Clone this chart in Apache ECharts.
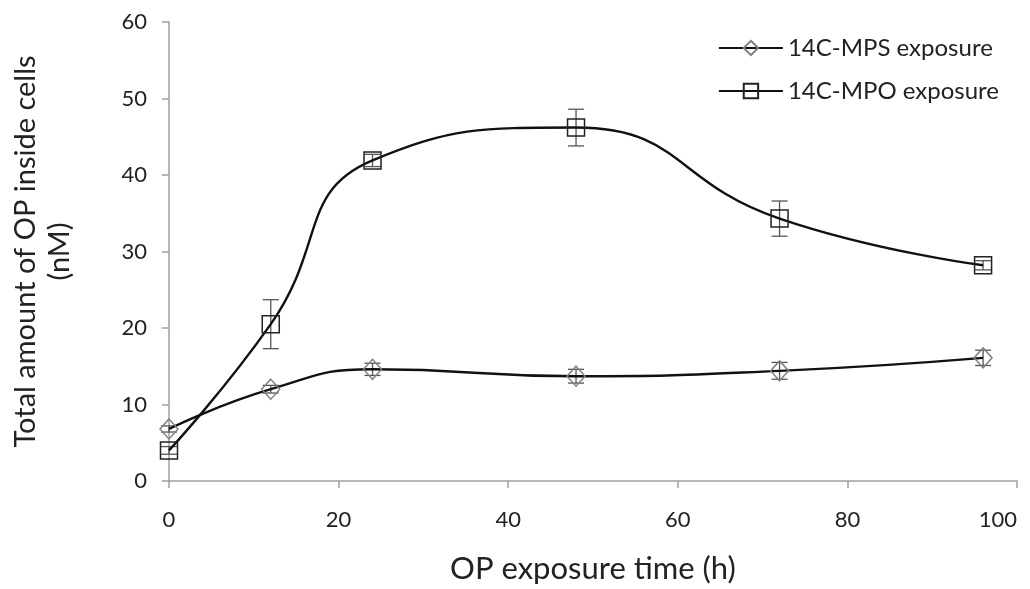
<!DOCTYPE html>
<html>
<head>
<meta charset="utf-8">
<script src="https://cdn.jsdelivr.net/npm/echarts@6/dist/echarts.min.js"></script>
<style>
  html, body { margin: 0; padding: 0; background: #fff; }
  #chart { width: 1030px; height: 589px; }
</style>
</head>
<body>
<div id="chart"></div>
<script>
const hours = [0, 12, 24, 48, 72, 96];
const mpsValues = [6.8, 12.0, 14.6, 13.7, 14.4, 16.1];
const mpsErrors = [0.4, 0.5, 0.8, 0.9, 1.1, 1.0];
const mpoValues = [4.0, 20.5, 41.9, 46.2, 34.3, 28.2];
const mpoErrors = [0.5, 3.2, 0.8, 2.4, 2.3, 0.6];
const xTicks = [0, 20, 40, 60, 80, 100];
const yTicks = [0, 10, 20, 30, 40, 50, 60];

const font = 'Lato, "Open Sans", sans-serif';
const axisGray = '#a0a0a0';

function pairs(values) {
  return hours.map((h, i) => [h, values[i]]);
}

function errorData(values, errors) {
  return hours.map((h, i) => [h, values[i] - errors[i], values[i] + errors[i]]);
}

function renderErrorBar(params, api) {
  const x = api.value(0);
  const lo = api.coord([x, api.value(1)]);
  const hi = api.coord([x, api.value(2)]);
  const cap = 8;
  const style = { stroke: '#555', lineWidth: 1.3 };
  return {
    type: 'group',
    children: [
      { type: 'line', shape: { x1: lo[0], y1: lo[1], x2: hi[0], y2: hi[1] }, style },
      { type: 'line', shape: { x1: hi[0] - cap, y1: hi[1], x2: hi[0] + cap, y2: hi[1] }, style },
      { type: 'line', shape: { x1: lo[0] - cap, y1: lo[1], x2: lo[0] + cap, y2: lo[1] }, style },
    ],
  };
}

const chart = echarts.init(document.getElementById('chart'), null, { renderer: 'canvas' });

chart.setOption({
  backgroundColor: '#fff',
  animation: false,
  textStyle: { fontFamily: font },
  grid: { left: 169, right: 13, top: 22, bottom: 108, containLabel: false, outerBoundsMode: 'none' },
  legend: {
    data: ['14C-MPS exposure', '14C-MPO exposure'],
    orient: 'vertical',
    right: 26,
    top: 31,
    itemWidth: 64,
    itemHeight: 18,
    itemGap: 19,
    textStyle: { fontFamily: font, fontSize: 24, color: '#222' },
  },
  xAxis: {
    type: 'value',
    min: xTicks[0],
    max: xTicks[xTicks.length - 1],
    interval: 20,
    name: 'OP exposure time (h)',
    nameLocation: 'middle',
    nameGap: 72,
    nameTextStyle: { fontFamily: font, fontSize: 31, color: '#222' },
    axisLine: { onZero: false, lineStyle: { color: axisGray, width: 1.5 } },
    axisTick: { show: true, length: 7, lineStyle: { color: axisGray, width: 1.5 } },
    axisLabel: { fontFamily: font, fontSize: 22, color: '#222', margin: 28, alignMaxLabel: 'right' },
    splitLine: { show: false },
  },
  yAxis: {
    type: 'value',
    min: yTicks[0],
    max: yTicks[yTicks.length - 1],
    interval: 10,
    name: 'Total amount of OP inside cells\n(nM)',
    nameLocation: 'middle',
    nameGap: 92,
    nameTextStyle: { fontFamily: font, fontSize: 29, color: '#222', lineHeight: 34 },
    axisLine: { show: true, lineStyle: { color: axisGray, width: 1.5 } },
    axisTick: { show: true, length: 7, lineStyle: { color: axisGray, width: 1.5 } },
    axisLabel: { fontFamily: font, fontSize: 22, color: '#222', margin: 22 },
    splitLine: { show: false },
  },
  series: [
    {
      type: 'custom',
      renderItem: renderErrorBar,
      data: errorData(mpsValues, mpsErrors),
      z: 1,
      silent: true,
    },
    {
      type: 'custom',
      renderItem: renderErrorBar,
      data: errorData(mpoValues, mpoErrors),
      z: 1,
      silent: true,
    },
    {
      name: '14C-MPS exposure',
      type: 'line',
      smooth: 0.5,
      data: pairs(mpsValues),
      symbol: 'diamond',
      symbolSize: [18, 20],
      lineStyle: { color: '#111', width: 2.4 },
      itemStyle: { color: 'rgba(255,255,255,0)', borderColor: '#808080', borderWidth: 1.5 },
      z: 3,
    },
    {
      name: '14C-MPO exposure',
      type: 'line',
      smooth: 0.5,
      data: pairs(mpoValues),
      symbol: 'rect',
      symbolSize: [17, 17],
      lineStyle: { color: '#111', width: 2.4 },
      itemStyle: { color: 'rgba(255,255,255,0)', borderColor: '#222', borderWidth: 1.5 },
      z: 3,
    },
  ],
});
</script>
</body>
</html>
